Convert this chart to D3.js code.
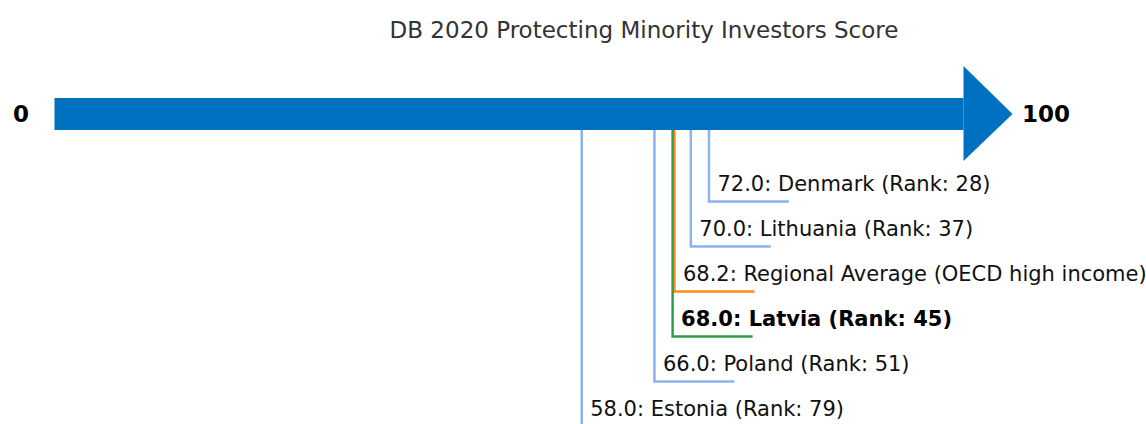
<!DOCTYPE html>
<html>
<head>
<meta charset="utf-8">
<script src="https://cdn.jsdelivr.net/npm/d3@7"></script>
<style>
  body { margin: 0; background: #fff; }
  svg { display: block; font-family: "DejaVu Sans", sans-serif; }
</style>
</head>
<body>
<svg id="chart" width="1146" height="424"></svg>
<script>
// economies shown on the arrow, top label first
const names = ["Denmark", "Lithuania", "Regional Average (OECD high income)", "Latvia", "Poland", "Estonia"];
const scores = [72.0, 70.0, 68.2, 68.0, 66.0, 58.0];
const ranks = [28, 37, null, 45, 51, 79];
const kinds = ["peer", "peer", "region", "focus", "peer", "peer"];
const domainEnds = [0, 100];

const colors = { peer: "#8ab4ee", region: "#ff8c1a", focus: "#2ca048" };

const svg = d3.select("#chart");
const x = d3.scaleLinear().domain(domainEnds).range([54.5, 963.5]);

const barTop = 98, barBottom = 130, barMid = (barTop + barBottom) / 2;

svg.append("text")
  .attr("x", 644).attr("y", 38)
  .attr("text-anchor", "middle")
  .attr("font-size", 23)
  .attr("fill", "#333")
  .text("DB 2020 Protecting Minority Investors Score");

// arrow body + head
svg.append("rect")
  .attr("x", x(0)).attr("y", barTop)
  .attr("width", x(100) - x(0)).attr("height", barBottom - barTop)
  .attr("fill", "#0070c0");
svg.append("polygon")
  .attr("points", [[x(100), 66], [x(100) + 49, barMid], [x(100), 161]].join(" "))
  .attr("fill", "#0070c0");

svg.append("text")
  .attr("x", 21).attr("y", barMid + 8)
  .attr("text-anchor", "middle")
  .attr("font-size", 23).attr("font-weight", "bold")
  .text(domainEnds[0]);
svg.append("text")
  .attr("x", 1022).attr("y", barMid + 8)
  .attr("font-size", 23).attr("font-weight", "bold")
  .text(domainEnds[1]);

const level = d3.scaleLinear().domain([0, 1]).range([201.5, 246.5]);

const g = svg.selectAll("g.mark")
  .data(names.map((n, i) => ({ name: n, score: scores[i], rank: ranks[i], kind: kinds[i], i })))
  .join("g").attr("class", "mark");

g.append("path")
  .attr("d", d => `M${x(d.score)},${barBottom}V${level(d.i)}H${x(d.score) + 80}`)
  .attr("fill", "none")
  .attr("stroke", d => colors[d.kind])
  .attr("stroke-width", 2.5);

g.append("text")
  .attr("x", d => x(d.score) + 8.5)
  .attr("y", d => level(d.i) - 11)
  .attr("font-size", 21)
  .attr("font-weight", d => d.kind === "focus" ? "bold" : "normal")
  .attr("fill", d => d.kind === "focus" ? "#000" : "#111")
  .text(d => `${d.score.toFixed(1)}: ${d.name}` + (d.rank != null ? ` (Rank: ${d.rank})` : ""));
</script>
</body>
</html>
